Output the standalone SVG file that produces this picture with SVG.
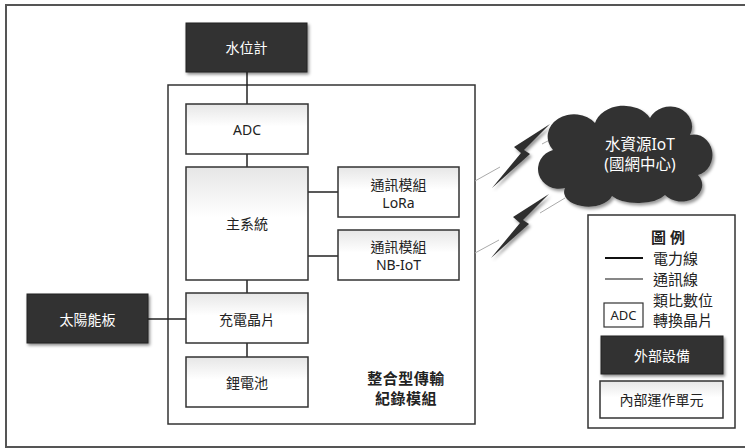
<svg xmlns="http://www.w3.org/2000/svg" width="745" height="448" viewBox="0 0 745 448">
<defs>
<linearGradient id="boxg" x1="0" y1="0" x2="0" y2="1">
<stop offset="0" stop-color="#e6e6e6"/>
<stop offset="0.45" stop-color="#ffffff"/>
<stop offset="1" stop-color="#ffffff"/>
</linearGradient>
<filter id="sh" x="-20%" y="-20%" width="150%" height="150%">
<feDropShadow dx="1.5" dy="2" stdDeviation="1.5" flood-color="#000" flood-opacity="0.45"/>
</filter>
<filter id="sh2" x="-30%" y="-30%" width="160%" height="160%">
<feDropShadow dx="2" dy="2.5" stdDeviation="1.8" flood-color="#000" flood-opacity="0.4"/>
</filter>
</defs>
<style>
.t{font-family:"Noto Sans","Noto Sans CJK TC",sans-serif;font-size:14px;fill:#222;text-anchor:middle;dominant-baseline:central}
.w{fill:#fff}
.dark{fill:#333;stroke:#222;stroke-width:1;filter:url(#sh)}
.inner{fill:url(#boxg);stroke:#333;stroke-width:1.5}
.conn{stroke:#222;stroke-width:1.5;fill:none}
.thin{stroke:#aaa;stroke-width:1;fill:none}
.lg{font-size:15px}
</style>
<rect width="745" height="448" fill="#fff"/>
<rect x="6" y="5" width="742" height="442" fill="none" stroke="#555" stroke-width="2"/>

<g id="module">
<rect x="168" y="85" width="307" height="339" fill="#fff" stroke="#333" stroke-width="1.5"/>
<text class="t" x="406" y="378" style="font-size:15px;font-weight:bold;letter-spacing:0.5px">整合型傳輸</text>
<text class="t" x="406" y="398" style="font-size:15px;font-weight:bold;letter-spacing:0.5px">紀錄模組</text>
</g>

<g id="connectors">
<line class="conn" x1="247" y1="72" x2="247" y2="104"/>
<line class="conn" x1="247" y1="154" x2="247" y2="167"/>
<line class="conn" x1="308" y1="192" x2="338" y2="192"/>
<line class="conn" x1="308" y1="256" x2="338" y2="256"/>
<line class="conn" x1="247" y1="280" x2="247" y2="293"/>
<line class="conn" x1="247" y1="343" x2="247" y2="357"/>
<line class="conn" x1="148" y1="319" x2="186" y2="319"/>
<line class="thin" x1="475" y1="181" x2="500" y2="167"/>
<line class="thin" x1="542" y1="144" x2="567" y2="131"/>
<line class="thin" x1="475" y1="253" x2="499" y2="240"/>
<line class="thin" x1="540" y1="213" x2="565" y2="198"/>
</g>

<g id="bolts" fill="#2e2e2e" filter="url(#sh2)">
<polygon points="550,124 514,147 521,153 492,188 530,154 524,150"/>
<polygon points="549,194 513,217 520,223 491,258 529,224 523,220"/>
</g>

<g id="water-meter">
<rect class="dark" x="186" y="23" width="121" height="49"/>
<text class="t w" x="246.5" y="47.5">水位計</text>
</g>
<g id="adc">
<rect class="inner" x="186" y="104" width="122" height="50"/>
<text class="t" x="247" y="129">ADC</text>
</g>
<g id="main-system">
<rect class="inner" x="186" y="167" width="122" height="113"/>
<text class="t" x="247" y="223">主系統</text>
</g>
<g id="lora">
<rect class="inner" x="338" y="167" width="121" height="50"/>
<text class="t" x="398.5" y="184">通訊模組</text>
<text class="t" x="398.5" y="202">LoRa</text>
</g>
<g id="nbiot">
<rect class="inner" x="338" y="230" width="121" height="50"/>
<text class="t" x="398.5" y="246.5">通訊模組</text>
<text class="t" x="398.5" y="264.5">NB-IoT</text>
</g>
<g id="charger">
<rect class="inner" x="186" y="293" width="122" height="50"/>
<text class="t" x="247" y="319">充電晶片</text>
</g>
<g id="battery">
<rect class="inner" x="186" y="357" width="122" height="50"/>
<text class="t" x="247" y="382">鋰電池</text>
</g>
<g id="solar">
<rect class="dark" x="27" y="294" width="121" height="49"/>
<text class="t w" x="87.5" y="319">太陽能板</text>
</g>

<g id="cloud">
<path d="M565,188 A18,17 0 0 1 553,150 A26,22 0 0 1 595,123 A30,24 0 0 1 650,118 A22,20 0 0 1 690,135 A18,20 0 0 1 698,175 A20,16 0 0 1 665,195 A30,14 0 0 1 612,196 A20,12 0 0 1 565,188 Z" fill="#333" filter="url(#sh2)"/>
<text class="t w" x="640" y="144" style="font-size:15.5px">水資源IoT</text>
<text class="t w" x="640" y="164" style="font-size:15.5px">(國網中心)</text>
</g>

<g id="legend">
<rect x="588" y="215" width="147" height="213" fill="#fff" stroke="#333" stroke-width="1.5"/>
<text class="t" x="668" y="237" style="font-size:15px;font-weight:bold">圖 例</text>
<line x1="605" y1="258" x2="643" y2="258" stroke="#111" stroke-width="2"/>
<text class="t lg" x="653" y="258" style="text-anchor:start">電力線</text>
<line x1="605" y1="279" x2="643" y2="279" stroke="#111" stroke-width="1.2"/>
<text class="t lg" x="653" y="279" style="text-anchor:start">通訊線</text>
<rect x="604" y="303" width="39" height="24" fill="#fff" stroke="#333" stroke-width="1.2"/>
<text class="t" x="623.5" y="315" style="font-size:13px">ADC</text>
<text class="t lg" x="653" y="300" style="text-anchor:start">類比數位</text>
<text class="t lg" x="653" y="320" style="text-anchor:start">轉換晶片</text>
<rect class="dark" x="601" y="336" width="122" height="38"/>
<text class="t w" x="662" y="355">外部設備</text>
<rect class="inner" x="600" y="381" width="123" height="37"/>
<text class="t" x="661.5" y="399.5">內部運作單元</text>
</g>
</svg>
